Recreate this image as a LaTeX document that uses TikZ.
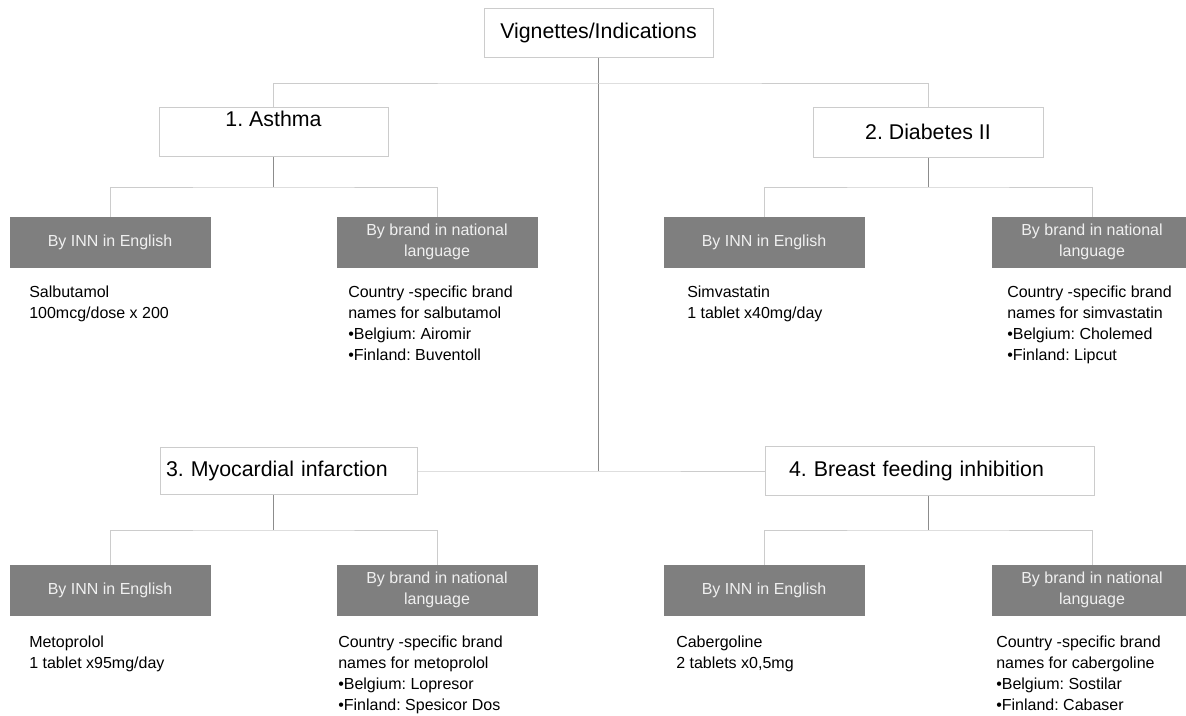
\documentclass[tikz,border=0pt]{standalone}
\usepackage{fontspec}
\setmainfont{Liberation Sans}
\frenchspacing
\definecolor{boxline}{RGB}{204,204,204}
\definecolor{stemgrey}{RGB}{140,140,140}
\definecolor{catgrey}{RGB}{127,127,127}
\begin{document}
\begin{tikzpicture}[x=0.75pt, y=0.75pt, yscale=-1, xscale=1,
  lvl/.style={draw=boxline, line width=0.75pt, fill=white, inner sep=0pt, font=\fontsize{16}{19.2}\selectfont},
  cat/.style={draw=catgrey, fill=catgrey, text=white!94!black, inner sep=0pt, align=center, minimum width=150pt, minimum height=37.5pt, font=\fontsize{12}{15.75}\selectfont},
  info/.style={anchor=north west, inner sep=0pt, align=left, font=\fontsize{12}{15.75}\selectfont},
  stem/.style={draw=stemgrey, line width=0.75pt},
  branch/.style={draw=boxline, line width=0.75pt}]
\useasboundingbox (0,0) rectangle (1186,715);
%Top
\node[lvl, minimum width=171.75pt, minimum height=36.75pt] (title) at (598.5,32.5) {Vignettes/Indications};
\node[lvl, minimum width=171.75pt, text height=14.7pt, text depth=22.05pt] (asthma) at (273.5,131.5) {1. Asthma};
\node[lvl, minimum width=172.5pt, minimum height=37.5pt] (diabetes) at (928,132) {2. Diabetes II};
\node[lvl, minimum height=35.25pt, text width=183.75pt, inner xsep=4.5pt, align=left] (myo) at (288.5,471) {3. Myocardial infarction};
\node[lvl, minimum height=36.75pt, text width=210.75pt, inner xsep=18pt, align=left] (breast) at (929.5,471) {4. Breast feeding inhibition};
\coordinate (bar) at (598.5,83);
\coordinate (hub) at (598.5,471);
\coordinate (fork1) at (273.5,187);
\coordinate (fork2) at (928,187);
\coordinate (fork3) at (273.5,530);
\coordinate (fork4) at (928,530);
%Categories
\node[cat] (inn1) at (110,242) {By INN in English};
\node[cat] (brand1) at (437,242) {By brand in national\\language};
\node[cat] (inn2) at (764,242) {By INN in English};
\node[cat] (brand2) at (1092,242) {By brand in national\\language};
\node[cat] (inn3) at (110,590) {By INN in English};
\node[cat] (brand3) at (437,590) {By brand in national\\language};
\node[cat] (inn4) at (764,590) {By INN in English};
\node[cat] (brand4) at (1092,590) {By brand in national\\language};
%Lines
\draw[stem] (title) -- (hub);
\draw[branch] (asthma.north) |- (bar) -| (diabetes.north);
\draw[branch] (myo.east) -- (hub) -- (breast.west);
\draw[stem] (fork1 |- asthma.south) -- (fork1);
\draw[stem] (fork2 |- diabetes.south) -- (fork2);
\draw[stem] (fork3 |- myo.south) -- (fork3);
\draw[stem] (fork4 |- breast.south) -- (fork4);
\draw[branch] (inn1.north) |- (fork1) -| (brand1.north);
\draw[branch] (inn2.north) |- (fork2) -| (brand2.north);
\draw[branch] (inn3.north) |- (fork3) -| (brand3.north);
\draw[branch] (inn4.north) |- (fork4) -| (brand4.north);
%Text
\node[info] (salb) at (29,286) {Salbutamol\\100mcg/dose x 200};
\node[info] (salbbrand) at (348,286) {Country -specific brand\\names for salbutamol\\•Belgium: Airomir\\•Finland: Buventoll};
\node[info] (simv) at (687,286) {Simvastatin\\1 tablet x40mg/day};
\node[info] (simvbrand) at (1007,286) {Country -specific brand\\names for simvastatin\\•Belgium: Cholemed\\•Finland: Lipcut};
\node[info] (meto) at (29,636) {Metoprolol\\1 tablet x95mg/day};
\node[info] (metobrand) at (338,636) {Country -specific brand\\names for metoprolol\\•Belgium: Lopresor\\•Finland: Spesicor Dos};
\node[info] (cabe) at (676,636) {Cabergoline\\2 tablets x0,5mg};
\node[info] (cabebrand) at (996,636) {Country -specific brand\\names for cabergoline\\•Belgium: Sostilar\\•Finland: Cabaser};
\end{tikzpicture}
\end{document}
